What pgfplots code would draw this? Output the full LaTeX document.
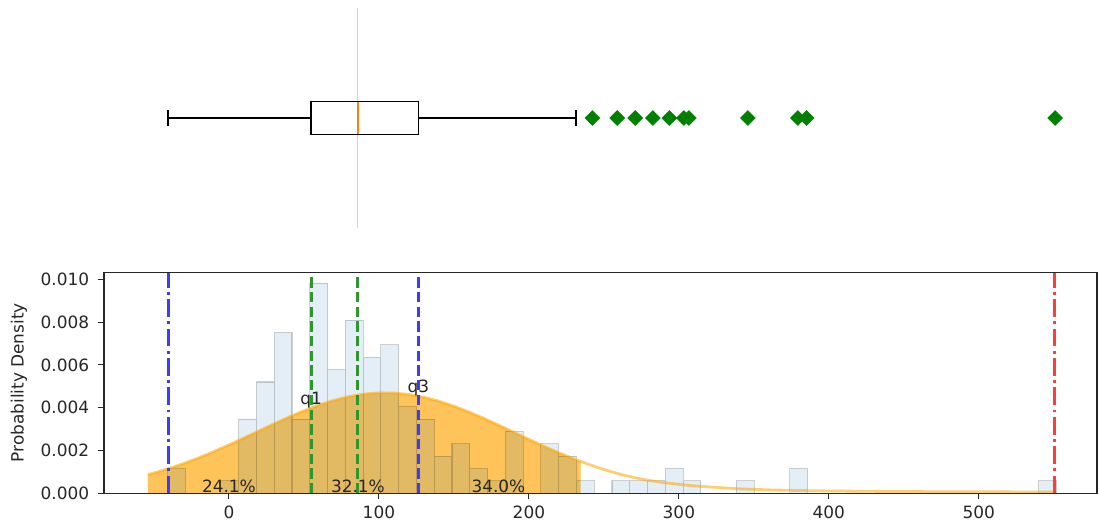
\documentclass[border=0pt]{standalone}
\usepackage{pgfplots}
\pgfplotsset{compat=1.18}
\usepackage{fontspec}
\setmainfont{DejaVu Sans}
\definecolor{boxorange}{HTML}{FF7F0E}
\definecolor{histblue}{HTML}{1F77B4}
\definecolor{outgreen}{HTML}{008000}
\definecolor{vgreen}{RGB}{45,150,45}
\definecolor{vblue}{RGB}{60,60,255}
\definecolor{vred}{RGB}{255,60,60}
\definecolor{kdeorange}{HTML}{FFA500}
\definecolor{faintorange}{RGB}{255,198,135}
\begin{document}
\begin{tikzpicture}[font=\fontsize{17}{20}\selectfont]
\path[use as bounding box] (0,0) rectangle (1099bp,-524bp);
% ---------- top: box plot ----------
\begin{axis}[
  at={(104bp,-228bp)}, anchor=south west,
  width=993bp, height=220bp, scale only axis,
  xmin=-83.3, xmax=578.8, ymin=0.5, ymax=1.5,
  hide axis, clip=false]
 \addplot[faintorange, line width=1.7bp] coordinates {(85.8,0.5) (85.8,1.5)};
 \addplot[black, line width=1.4bp] coordinates {(-40.6,1) (54.8,1)};
 \addplot[black, line width=1.4bp] coordinates {(126.3,1) (231.3,1)};
 \addplot[black, line width=1.4bp] coordinates {(-40.6,0.9625) (-40.6,1.0375)};
 \addplot[black, line width=1.4bp] coordinates {(231.3,0.9625) (231.3,1.0375)};
 \addplot[black, line width=1.4bp] coordinates {(54.8,0.925) (126.3,0.925) (126.3,1.075) (54.8,1.075) (54.8,0.925) (126.3,0.925)};
 \addplot[boxorange, line width=2bp] coordinates {(85.8,0.928) (85.8,1.072)};
 \addplot[only marks, mark=square*, mark size=5.3bp, mark options={rotate=45, fill=outgreen, draw=outgreen}]
   coordinates {(242.3,1) (258.9,1) (270.9,1) (282.7,1) (293.6,1) (303.3,1) (306.7,1) (346.0,1) (379.3,1) (385.1,1) (550.9,1)};
\end{axis}
% ---------- bottom: histogram + density ----------
\begin{axis}[
  at={(104bp,-493.3bp)}, anchor=south west,
  width=993bp, height=221bp, scale only axis,
  xmin=-83.3, xmax=578.8, ymin=0, ymax=0.01033,
  axis on top,
  axis line style={line width=1.1bp, black!85},
  tick align=outside, tick pos=left, major tick length=6bp,
  every tick/.style={black!85, line width=1.1bp},
  xtick={0,100,200,300,400,500},
  ytick={0,0.002,0.004,0.006,0.008,0.01},
  scaled y ticks=false,
  /pgf/number format/assume math mode=true,
  yticklabel style={/pgf/number format/fixed, /pgf/number format/fixed zerofill, /pgf/number format/precision=3, anchor=east, inner sep=0pt, text=black!85},
  xticklabel style={anchor=north, inner sep=0pt, text=black!85},
  yticklabel shift=8.7bp,
  xticklabel shift=6.7bp,
  ylabel={Probability Density},
  every axis y label/.style={at={(axis description cs:-0.0856,0.5)}, rotate=90, anchor=center, text=black!85},
]
 % density fill (min to upper whisker)
 \addplot[draw=none, fill=kdeorange, fill opacity=0.65] coordinates {
  (-54,0.00087) (-40,0.001157) (-30,0.001396) (-20,0.001662) (-10,0.001952) (0,0.002262)
  (10,0.002586) (20,0.002917) (30,0.003246) (40,0.003563) (50,0.003859) (60,0.004123)
  (70,0.004347) (80,0.00452) (90,0.004638) (100,0.004695) (110,0.004689) (120,0.00462)
  (130,0.00449) (140,0.004306) (150,0.004074) (160,0.003802) (170,0.003501) (180,0.00318)
  (190,0.002851) (200,0.002521) (210,0.002199) (220,0.001892) (230,0.001607) (234.5,0.001486)
 } \closedcycle;
 % histogram
 \addplot[ybar interval, fill=histblue, fill opacity=0.12, draw=black, draw opacity=0.18, line width=1.1bp] coordinates {
  (-40.90,0.001156) (-29.05,0) (-17.19,0) (-5.34,0.000578) (6.51,0.003468) (18.37,0.005202)
  (30.22,0.007514) (42.07,0.003468) (53.92,0.009826) (65.78,0.00578) (77.63,0.008092)
  (89.48,0.006358) (101.34,0.006936) (113.19,0.004046) (125.04,0.003468) (136.90,0.001734)
  (148.75,0.002312) (160.60,0.001156) (172.45,0.000578) (184.31,0.00289) (196.16,0)
  (208.01,0.002312) (219.87,0.001734) (231.72,0.000578) (243.57,0) (255.43,0.000578)
  (267.28,0.000578) (279.13,0.000578) (290.98,0.001156) (302.84,0.000578) (314.69,0)
  (326.54,0) (338.40,0.000578) (350.25,0) (362.10,0) (373.96,0.001156) (385.81,0)
  (397.66,0) (409.52,0) (421.37,0) (433.22,0) (445.07,0) (456.93,0) (468.78,0)
  (480.63,0) (492.49,0) (504.34,0) (516.19,0) (528.05,0) (539.90,0.000578) (551.75,0)
 };
 % density curve
 \addplot[kdeorange, opacity=0.55, line width=2.8bp] coordinates {
  (-54,0.00087) (-40,0.001157) (-30,0.001396) (-20,0.001662) (-10,0.001952) (0,0.002262)
  (10,0.002586) (20,0.002917) (30,0.003246) (40,0.003563) (50,0.003859) (60,0.004123)
  (70,0.004347) (80,0.00452) (90,0.004638) (100,0.004695) (110,0.004689) (120,0.00462)
  (130,0.00449) (140,0.004306) (150,0.004074) (160,0.003802) (170,0.003501) (180,0.00318)
  (190,0.002851) (200,0.002521) (210,0.002199) (220,0.001892) (230,0.001607) (240,0.001346)
  (250,0.001113) (260,0.000907) (270,0.00074) (280,0.0006) (290,0.0005) (300,0.00042)
  (310,0.00035) (320,0.0003) (340,0.00021) (360,0.00016) (380,0.00013) (400,0.00011)
  (450,0.00008) (500,0.00007) (550,0.00006)
 };
 % reference lines
 \addplot[vblue, line width=3bp, dash pattern=on 17.8bp off 4.4bp on 2.8bp off 4.4bp] coordinates {(-40.6,0) (-40.6,0.01033)};
 \addplot[vgreen, line width=2.8bp, dash pattern=on 10.3bp off 4.4bp] coordinates {(54.8,0) (54.8,0.01033)};
 \addplot[vgreen, line width=2.8bp, dash pattern=on 10.3bp off 4.4bp] coordinates {(85.8,0) (85.8,0.01033)};
 \addplot[vblue, line width=2.8bp, dash pattern=on 10.3bp off 4.4bp] coordinates {(126.3,0) (126.3,0.01033)};
 \addplot[vred, line width=3bp, dash pattern=on 17.8bp off 4.4bp on 2.8bp off 4.4bp] coordinates {(550.7,0) (550.7,0.01033)};
 % labels
 \node[anchor=south, inner sep=0pt, text=black!85] at (axis cs:54.8,0.00398) {q1};
 \node[anchor=south, inner sep=0pt, text=black!85] at (axis cs:126.3,0.00455) {q3};
 \node[anchor=south, inner sep=0pt, text=black!85] at (axis cs:0,0) {24.1\%};
 \node[anchor=south, inner sep=0pt, text=black!85] at (axis cs:86,0) {32.1\%};
 \node[anchor=south, inner sep=0pt, text=black!85] at (axis cs:179.7,0) {34.0\%};
\end{axis}
\end{tikzpicture}
\end{document}
